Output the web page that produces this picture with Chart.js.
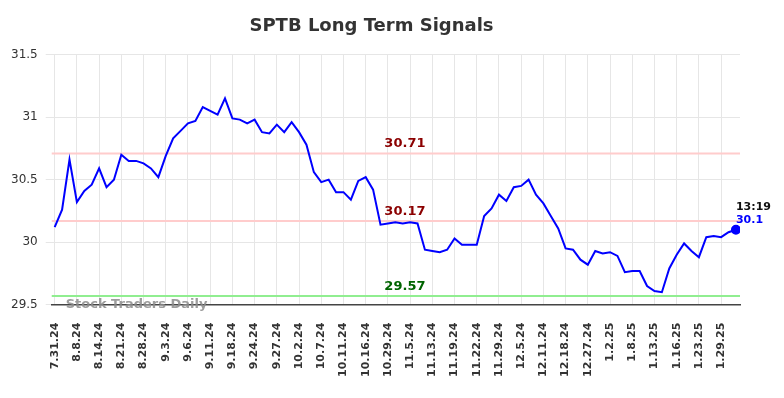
<!DOCTYPE html>
<html>
<head>
<meta charset="utf-8">
<script src="https://cdn.jsdelivr.net/npm/chart.js@4/dist/chart.umd.min.js"></script>
<style>
  html, body { margin: 0; padding: 0; background: #fff; }
  #wrap { width: 784px; height: 398px; }
</style>
</head>
<body>
<div id="wrap"><canvas id="signals"></canvas></div>
<script>
const tickDates = ["7.31.24", "8.8.24", "8.14.24", "8.21.24", "8.28.24", "9.3.24", "9.6.24", "9.11.24", "9.18.24", "9.24.24", "9.27.24", "10.2.24", "10.7.24", "10.11.24", "10.16.24", "10.29.24", "11.5.24", "11.13.24", "11.19.24", "11.22.24", "11.29.24", "12.5.24", "12.11.24", "12.18.24", "12.27.24", "1.2.25", "1.8.25", "1.13.25", "1.16.25", "1.23.25", "1.29.25"]
const pointsPerTick = 3
const prices = [30.12, 30.26, 30.66, 30.32, 30.41, 30.46, 30.59, 30.44, 30.50, 30.70,
    30.65, 30.65, 30.63, 30.59, 30.52, 30.69, 30.83, 30.89, 30.95, 30.97,
    31.08, 31.05, 31.02, 31.15, 30.99, 30.98, 30.95, 30.98, 30.88, 30.87,
    30.94, 30.88, 30.96, 30.88, 30.78, 30.56, 30.48, 30.50, 30.40, 30.40,
    30.34, 30.49, 30.52, 30.42, 30.14, 30.15, 30.16, 30.15, 30.16, 30.15,
    29.94, 29.93, 29.92, 29.94, 30.03, 29.98, 29.98, 29.98, 30.21, 30.27,
    30.38, 30.33, 30.44, 30.45, 30.50, 30.38, 30.31, 30.21, 30.11, 29.95,
    29.94, 29.86, 29.82, 29.93, 29.91, 29.92, 29.89, 29.76, 29.77, 29.77,
    29.65, 29.61, 29.60, 29.79, 29.90, 29.99, 29.93, 29.88, 30.04, 30.05,
    30.04, 30.08, 30.10]
const signalLevels = [30.71, 30.17, 29.57]
const signalLineColors = ["rgb(255, 204, 204)", "rgb(255, 204, 204)", "rgb(144, 238, 144)"]
const signalTextColors = ["#8b0000", "#8b0000", "#006400"]
const lastTime = "13:19"
const lastIndex = prices.length - 1

const FONT = "'DejaVu Sans', sans-serif"

// horizontal signal lines, watermark and the last-price note
const signalPlugin = {
    id: "signals",
    beforeDatasetsDraw(chart) {
        const { ctx, chartArea, scales } = chart
        const midX = scales.x.getPixelForValue(47.3)
        ctx.save()
        signalLevels.forEach((lvl, i) => {
            const y = scales.y.getPixelForValue(lvl)
            ctx.strokeStyle = signalLineColors[i]
            ctx.lineWidth = 2
            ctx.beginPath()
            ctx.moveTo(chartArea.left, y)
            ctx.lineTo(chartArea.right, y)
            ctx.stroke()
            ctx.fillStyle = signalTextColors[i]
            ctx.font = "bold 13px " + FONT
            ctx.textAlign = "center"
            ctx.textBaseline = "bottom"
            ctx.fillText(lvl.toFixed(2), midX, y - 3)
        })
        ctx.restore()
    },
    afterDraw(chart) {
        const { ctx, chartArea, scales } = chart
        ctx.save()
        ctx.font = "bold 13px " + FONT
        ctx.fillStyle = "rgba(140, 140, 140, 0.85)"
        ctx.textAlign = "left"
        ctx.textBaseline = "alphabetic"
        ctx.fillText("Stock Traders Daily", chartArea.left + 14, chartArea.bottom + 3)

        const px = scales.x.getPixelForValue(lastIndex)
        const py = scales.y.getPixelForValue(prices[lastIndex])
        ctx.font = "bold 11px " + FONT
        ctx.fillStyle = "#111"
        ctx.fillText(lastTime, px, py - 20)
        ctx.fillStyle = "#0000ff"
        ctx.fillText(String(prices[lastIndex]), px, py - 7)
        ctx.restore()
    }
}

const canvas = document.querySelector("#signals")
new Chart(canvas, {
    type: "line",
    data: {
        datasets: [{
            label: "SPTB",
            data: prices.map((p, i) => ({ x: i, y: p })),
            borderColor: "#0000ff",
            borderWidth: 2,
            backgroundColor: "#0000ff",
            tension: 0,
            pointRadius: ctx => ctx.dataIndex === lastIndex ? 4 : 0,
            pointHoverRadius: 0
        }]
    },
    options: {
        responsive: true,
        maintainAspectRatio: false,
        animation: false,
        layout: {
            padding: { left: 3, right: 44, top: 0, bottom: 3 }
        },
        scales: {
            x: {
                type: "linear",
                min: -0.4,
                max: 92.55,
                grid: {
                    color: "#e6e6e6",
                    drawTicks: false
                },
                border: {
                    display: true,
                    color: "#444",
                    width: 1.5
                },
                ticks: {
                    stepSize: pointsPerTick,
                    includeBounds: false,
                    autoSkip: false,
                    maxRotation: 90,
                    minRotation: 90,
                    padding: 18,
                    color: "#333",
                    font: { family: FONT, size: 11, weight: "bold" },
                    callback: v => tickDates[v / pointsPerTick] ?? ""
                }
            },
            y: {
                min: 29.5,
                max: 31.5,
                grid: {
                    color: "#e6e6e6",
                    tickLength: 6
                },
                border: { display: false },
                ticks: {
                    stepSize: 0.5,
                    padding: 8,
                    color: "#333",
                    font: { family: FONT, size: 12 },
                    callback: v => String(Number(v.toFixed(1)))
                }
            }
        },
        plugins: {
            legend: { display: false },
            tooltip: { enabled: false },
            title: {
                display: true,
                text: "SPTB Long Term Signals",
                color: "#333",
                font: { family: FONT, size: 18, weight: "bold" },
                padding: { top: 16, bottom: 17 }
            }
        }
    },
    plugins: [signalPlugin]
})
</script>
</body>
</html>
